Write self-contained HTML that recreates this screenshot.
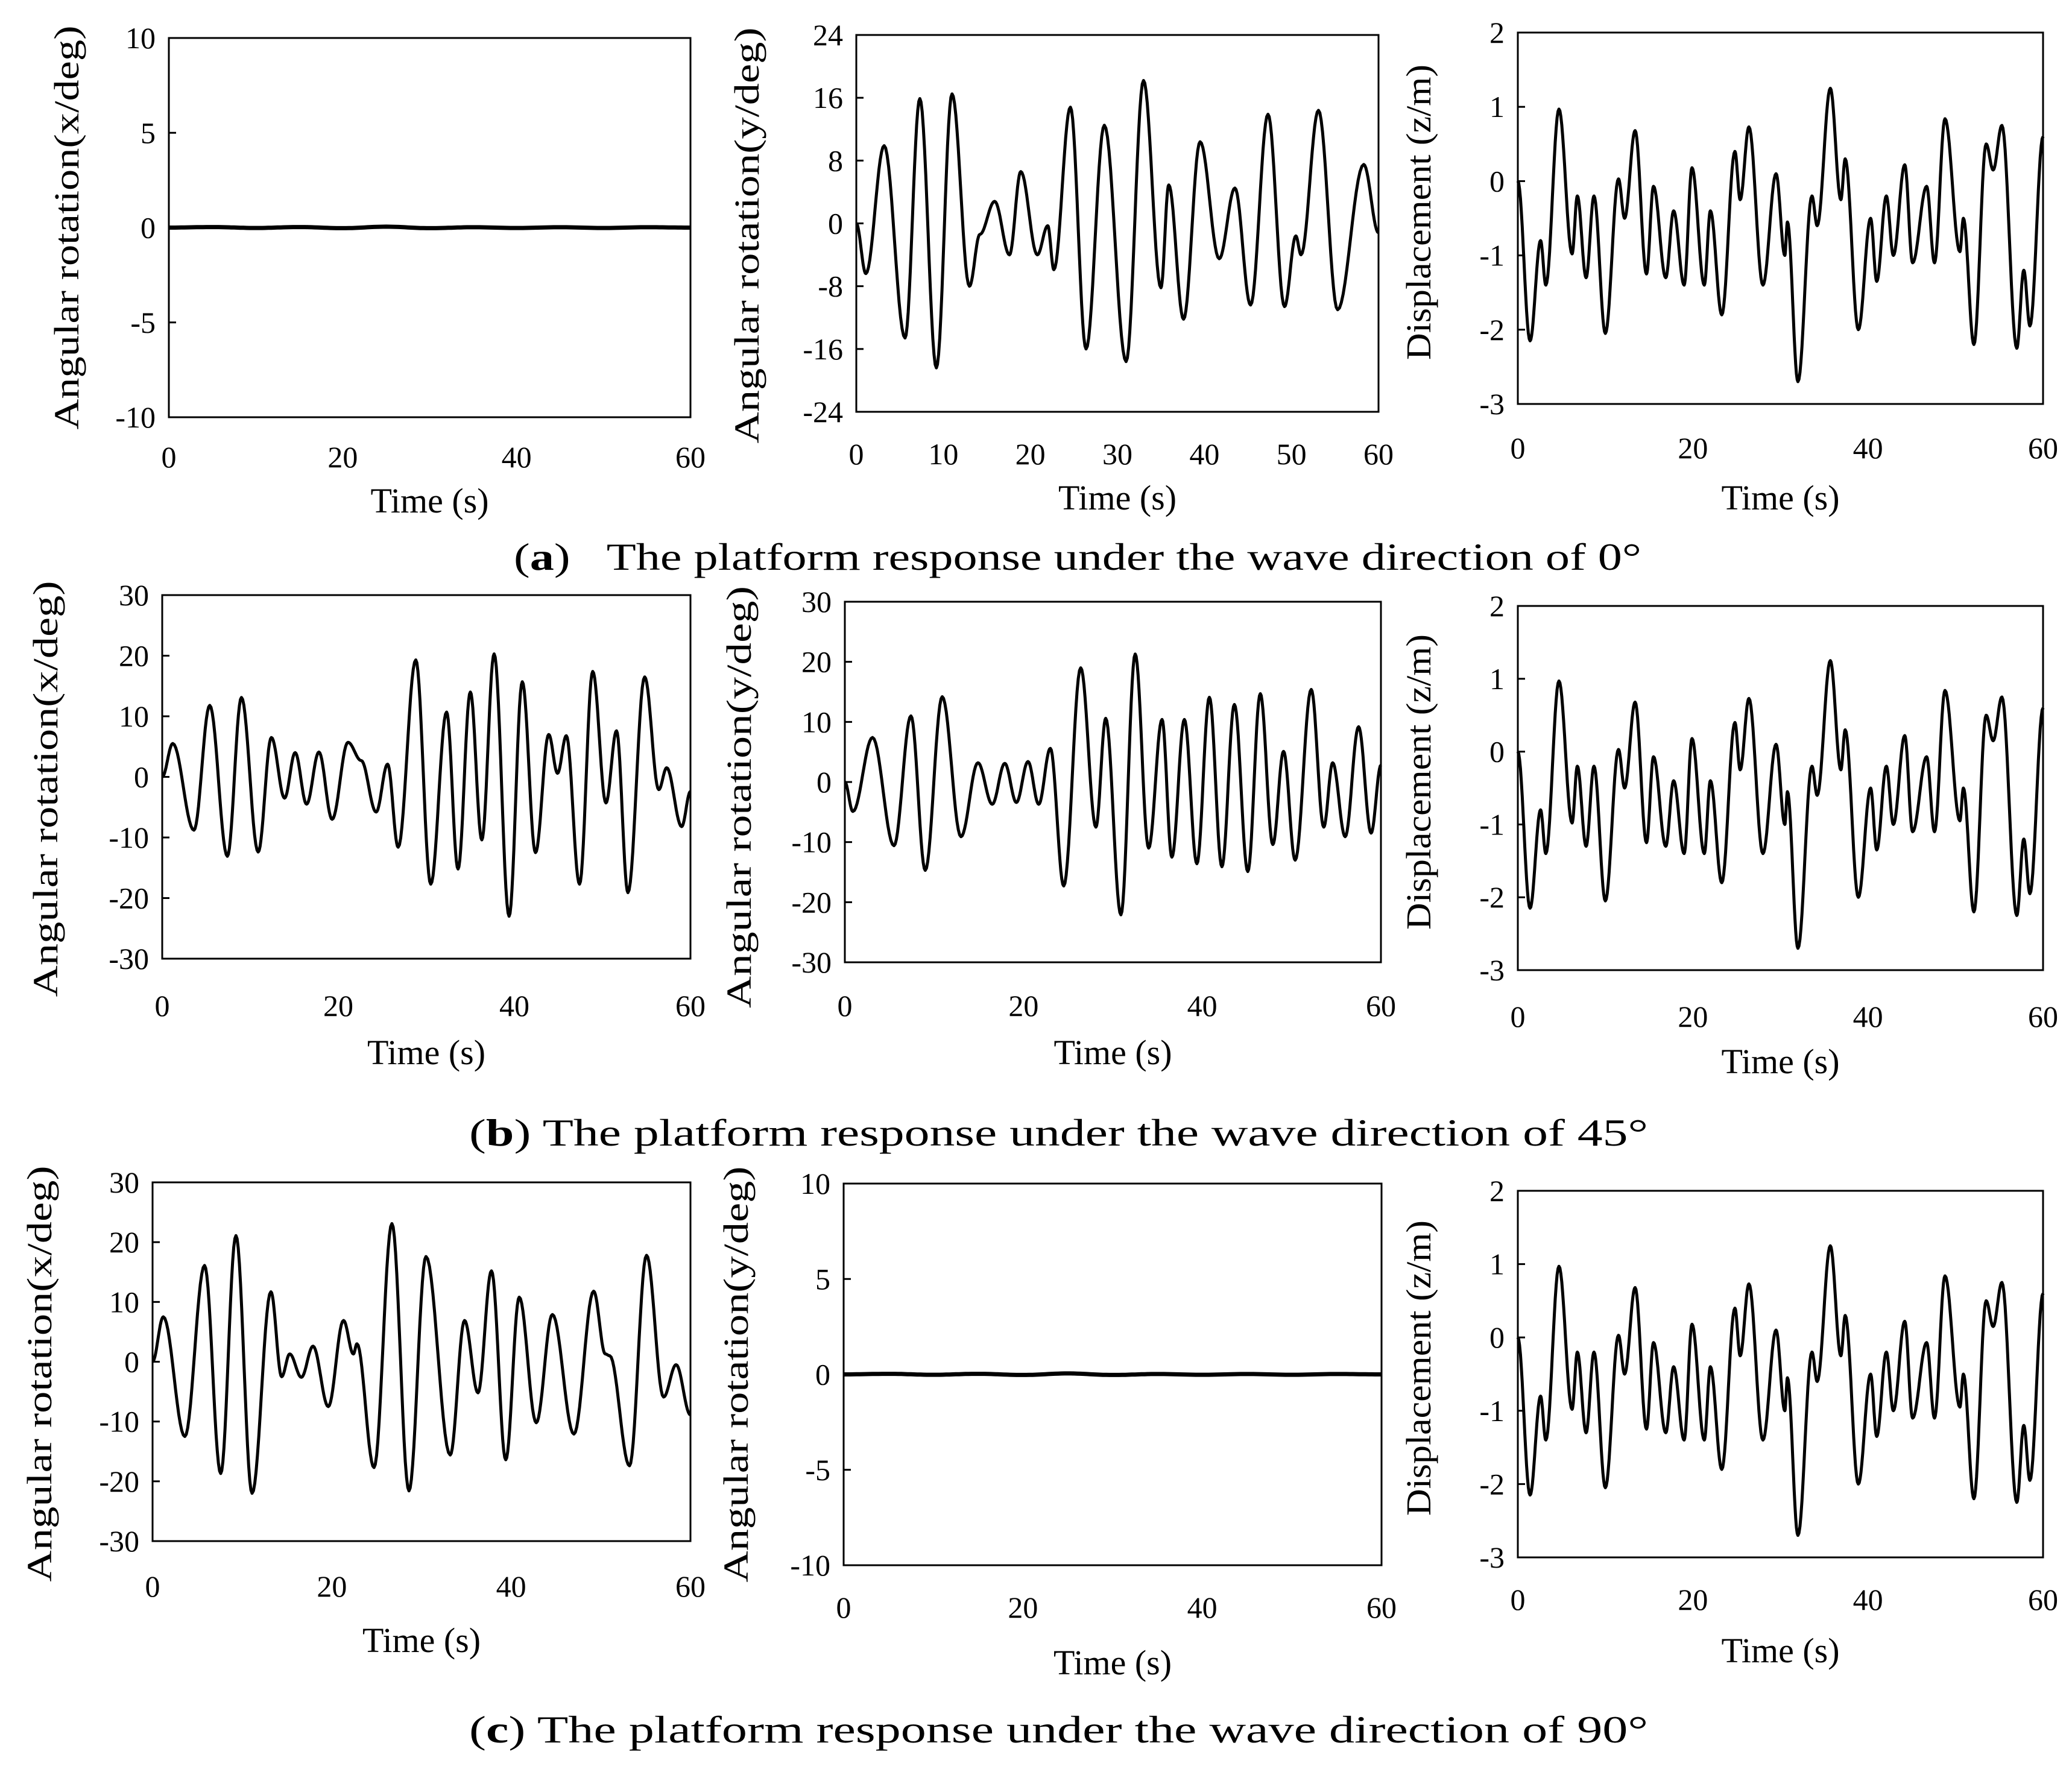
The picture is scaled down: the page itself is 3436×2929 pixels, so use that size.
<!DOCTYPE html>
<html><head><meta charset="utf-8"><style>
html,body{margin:0;padding:0;background:#fff}
svg{display:block}
text{font-family:"Liberation Serif","Times New Roman",serif;fill:#000}
</style></head><body>
<svg id="fig" width="3436" height="2929" viewBox="0 0 3436 2929" xmlns="http://www.w3.org/2000/svg" font-family="Liberation Serif, serif"></svg>
<script>
// ---- data: extrema sequences [time s, value] ----
const zTimes=[0,1.4,2.6,3.2,4.7,6.2,6.8,7.8,8.7,10,11.5,12.2,13.4,14.7,15.5,16.9,17.8,19,19.9,21.3,22,23.3,24.8,25.4,26.4,28,29.5,30.5,30.8,32,33.6,34.2,35.7,36.9,37.4,38.9,40.3,41,42.1,42.9,44.2,45.1,46.7,47.6,48.8,50.5,50.9,52.1,53.5,54.3,55.3,57,57.8,58.5,60];
const zValues=[0,-2.15,-0.8,-1.4,0.97,-0.98,-0.2,-1.3,-0.2,-2.05,0.03,-0.5,0.68,-1.25,-0.07,-1.3,-0.4,-1.4,0.18,-1.4,-0.4,-1.8,0.4,-0.25,0.73,-1.4,0.1,-1.0,-0.55,-2.7,-0.2,-0.6,1.25,-0.25,0.3,-2.0,-0.5,-1.35,-0.2,-1.0,0.22,-1.1,-0.07,-1.1,0.84,-0.95,-0.5,-2.2,0.5,0.15,0.75,-2.25,-1.2,-1.95,0.6];
const yA_times=[0,1.1,3.2,5.6,7.3,9.2,11,13,14.2,15.9,17.6,18.9,20.8,22,22.7,24.6,26.4,28.5,31,33,35,35.9,37.6,39.5,41.7,43.5,45.3,47.3,49.2,50.5,51.1,53.1,55.3,58.3,60];
const yA_values=[0,-6.4,9.9,-14.6,15.9,-18.4,16.5,-8,-1.4,2.8,-4,6.6,-4,-0.3,-5.9,14.8,-16,12.5,-17.6,18.2,-8.2,4.9,-12.2,10.4,-4.5,4.5,-10.4,13.9,-10.6,-1.6,-4,14.4,-11,7.5,-1.2];
const xB_times=[0,1.2,3.6,5.4,7.4,9,10.9,12.4,13.9,15.1,16.4,17.8,19.3,21.1,22.6,24.3,25.6,26.8,28.8,30.5,32.3,33.6,35,36.3,37.7,39.4,40.9,42.4,43.9,44.9,45.9,47.4,48.9,50.4,51.6,52.9,54.8,56.4,57.3,59,60];
const xB_values=[0,5.5,-8.8,11.8,-13.1,13.1,-12.4,6.5,-3.5,4,-4.5,4.1,-7,5.7,2.7,-5.8,2.1,-11.6,19.3,-17.7,10.7,-15.2,14,-10.4,20.3,-23,15.7,-12.5,7,0.6,6.8,-17.7,17.4,-4.3,7.6,-19.1,16.5,-2.1,1.5,-8.2,-2.4];
const yB_times=[0,0.9,3.1,5.5,7.4,9,10.9,13,14.9,16.5,17.9,19.2,20.5,21.7,23,24.5,26.4,28.1,29.2,30.9,32.5,34,35.5,36.6,38,39.4,40.8,42.2,43.6,45.1,46.5,47.9,49.1,50.4,52.2,53.6,54.6,56,57.5,58.9,60];
const yB_values=[0,-4.9,7.4,-10.6,11,-14.7,14.2,-9.1,3.2,-3.7,3.1,-3.4,3.4,-3.7,5.6,-17.3,19,-7.5,10.6,-22.1,21.3,-11,10.4,-12.5,10.4,-13.6,14.1,-14.1,12.9,-14.9,14.7,-10.4,5.1,-13,15.4,-7.5,3.2,-9.1,9.2,-8.5,2.8];
const xC_times=[0,1.2,3.6,5.8,7.6,9.3,11.1,13.2,14.4,15.3,16.6,17.9,19.6,21.3,22.4,22.8,24.7,26.7,28.6,30.5,33.2,34.8,36.3,37.8,39.4,40.9,42.8,44.6,47,49.2,50.5,51,53.2,55.1,57,58.4,60];
const xC_values=[0,7.5,-12.5,16.1,-18.7,21.1,-22,11.7,-2.5,1.3,-2.6,2.6,-7.5,6.9,1.3,3,-17.7,23.1,-21.6,17.6,-15.6,6.9,-5.2,15.2,-16.4,10.8,-10.2,7.9,-12.1,11.8,1.3,1.0,-17.4,17.8,-5.9,-0.5,-8.9];
const flatTimes=[0,5,10,15,20,25,30,35,40,45,50,55,60];
const flatValues=[0,0.03,-0.02,0.03,-0.03,0.05,-0.03,0.02,-0.02,0.02,-0.02,0.02,0];
const xTicks60=[0,20,40,60];
const xTicks10=[0,10,20,30,40,50,60];
const yTicks10=[10,5,0,-5,-10];
const yTicks24=[24,16,8,0,-8,-16,-24];
const yTicks30=[30,20,10,0,-10,-20,-30];
const yTicksZ=[2,1,0,-1,-2,-3];

const NS='http://www.w3.org/2000/svg';
const svg=document.getElementById('fig');
function mk(tag,attrs,parent){const e=document.createElementNS(NS,tag);for(const k in attrs)e.setAttribute(k,attrs[k]);(parent||svg).appendChild(e);return e;}

function curve(times,values,xs,ys){
  let d='';
  for(let i=0;i<times.length-1;i++){
    const t0=times[i],t1=times[i+1],v0=values[i],v1=values[i+1];
    const n=14;
    for(let k=(i?1:0);k<=n;k++){
      const u=k/n,t=t0+(t1-t0)*u,v=v0+(v1-v0)*(1-Math.cos(Math.PI*u))/2;
      d+=(d?'L':'M')+xs(t).toFixed(1)+','+ys(v).toFixed(1);
    }
  }
  return d;
}

function panel(p){
  const g=mk('g',{});
  
  
  const xs=t=>p.x0+(p.x1-p.x0)*t/60;
  const ys=v=>p.y1-(p.y1-p.y0)*(v-p.ymin)/(p.ymax-p.ymin);
  const box=mk('rect',{x:p.x0,y:p.y0,width:p.x1-p.x0,height:p.y1-p.y0,fill:'none',stroke:'#000','stroke-width':3},g);
  
  
  p.yt.forEach(v=>{
    const y=ys(v);
    mk('line',{x1:p.x0,x2:p.x0+12,y1:y,y2:y,stroke:'#000','stroke-width':3},g);
    const t=mk('text',{x:p.x0-22,y:y+17,'font-size':50,'text-anchor':'end'},g);
    t.textContent=v;
    
    
  });
  p.xt.forEach(v=>{
    const t=mk('text',{x:xs(v),y:p.xly,'font-size':50,'text-anchor':'middle'},g);
    t.textContent=v;
    
    
  });
  const xl=mk('text',{x:(p.x0+p.x1)/2,y:p.tly,'font-size':58,'text-anchor':'middle'},g);
  xl.textContent='Time (s)';
  
  
  const yc=(p.y0+p.y1)/2;
  const yl=mk('text',{x:0,y:0,'font-size':58,'text-anchor':'middle',textLength:p.tlen,lengthAdjust:'spacingAndGlyphs',transform:`translate(${p.tx},${yc+p.tdy}) rotate(-90)`},g);
  yl.textContent=p.title;
  
  
  const path=mk('path',{d:curve(p.times,p.values,xs,ys),fill:'none',stroke:'#000','stroke-width':p.flat?7:5,'stroke-linejoin':'round'},g);
  
  
}

const AX='Angular rotation(x/deg)',AY='Angular rotation(y/deg)',DZ='Displacement  (z/m)';
const panels=[
 {name:'panel-a-x-rotation',x0:280,x1:1145,y0:63,y1:692,ymin:-10,ymax:10,yt:yTicks10,xt:xTicks60,xly:775,tly:850,tx:130,tdy:0,tlen:670,title:AX,times:flatTimes,values:flatValues,flat:true},
 {name:'panel-a-y-rotation',x0:1420,x1:2286,y0:58,y1:683,ymin:-24,ymax:24,yt:yTicks24,xt:xTicks10,xly:770,tly:845,tx:1258,tdy:20,tlen:690,title:AY,times:yA_times,values:yA_values},
 {name:'panel-a-z-displacement',x0:2517,x1:3388,y0:54,y1:670,ymin:-3,ymax:2,yt:yTicksZ,xt:xTicks60,xly:760,tly:845,tx:2372,tdy:-10,tlen:490,title:DZ,times:zTimes,values:zValues},
 {name:'panel-b-x-rotation',x0:269,x1:1145,y0:987,y1:1590,ymin:-30,ymax:30,yt:yTicks30,xt:xTicks60,xly:1685,tly:1765,tx:95,tdy:20,tlen:690,title:AX,times:xB_times,values:xB_values},
 {name:'panel-b-y-rotation',x0:1401,x1:2290,y0:998,y1:1596,ymin:-30,ymax:30,yt:yTicks30,xt:xTicks60,xly:1685,tly:1765,tx:1245,tdy:25,tlen:700,title:AY,times:yB_times,values:yB_values},
 {name:'panel-b-z-displacement',x0:2517,x1:3388,y0:1005,y1:1609,ymin:-3,ymax:2,yt:yTicksZ,xt:xTicks60,xly:1703,tly:1780,tx:2372,tdy:-10,tlen:490,title:DZ,times:zTimes,values:zValues},
 {name:'panel-c-x-rotation',x0:253,x1:1145,y0:1961,y1:2556,ymin:-30,ymax:30,yt:yTicks30,xt:xTicks60,xly:2648,tly:2740,tx:85,tdy:20,tlen:690,title:AX,times:xC_times,values:xC_values},
 {name:'panel-c-y-rotation',x0:1399,x1:2291,y0:1963,y1:2596,ymin:-10,ymax:10,yt:yTicks10,xt:xTicks60,xly:2683,tly:2777,tx:1240,tdy:0,tlen:690,title:AY,times:flatTimes,values:flatValues,flat:true},
 {name:'panel-c-z-displacement',x0:2517,x1:3388,y0:1975,y1:2583,ymin:-3,ymax:2,yt:yTicksZ,xt:xTicks60,xly:2670,tly:2757,tx:2372,tdy:-10,tlen:490,title:DZ,times:zTimes,values:zValues}
];
panels.forEach(panel);

function caption(y,letter,gap,deg,name,x,len){
  const t=mk('text',{x:x,y:y,'font-size':64,textLength:len,lengthAdjust:'spacingAndGlyphs'});
  
  
  const a=mk('tspan',{},t);a.textContent='(';
  const b=mk('tspan',{'font-weight':'bold'},t);b.textContent=letter;
  const c=mk('tspan',{},t);c.textContent=')'+gap+'The platform response under the wave direction of '+deg+'°';
}
caption(945,'a','\u00a0\u00a0\u00a0','0','caption-a',852,1870);
caption(1900,'b',' ','45','caption-b',778,1955);
caption(2890,'c',' ','90','caption-c',778,1955);
</script>
</body></html>
